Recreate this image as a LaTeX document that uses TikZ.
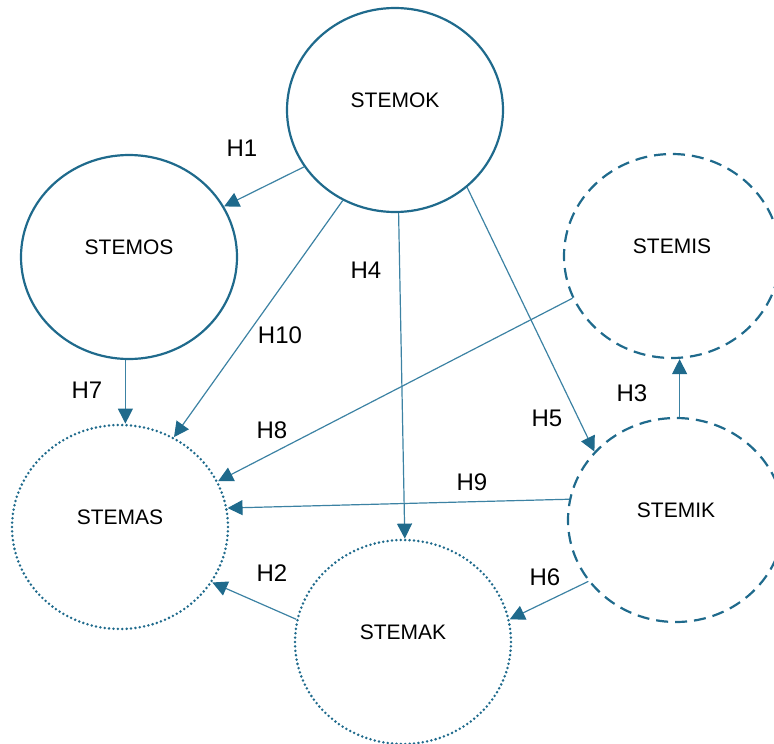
\documentclass[tikz,border=0pt]{standalone}
\usepackage{fontspec}
\setmainfont{Liberation Sans}
\usepackage{xcolor}
\usepackage{tikz}
\usetikzlibrary{shapes.geometric,arrows.meta}
\definecolor{stemblue}{HTML}{1F6A8C}
\definecolor{linkblue}{HTML}{3C82A3}

\begin{document}
\begin{tikzpicture}[x=1pt,y=-1pt,
  var/.style={ellipse, draw=stemblue, line width=2.2pt, minimum width=216pt, minimum height=204pt, inner sep=0pt},
  solidvar/.style={var},
  dashvar/.style={var, dash pattern=on 12pt off 7pt},
  dotvar/.style={var, line width=2.8pt, line cap=round, dash pattern=on 0pt off 4.4pt},
  hyp/.style={-{Triangle[length=15pt,width=15pt,color=stemblue]}, draw=linkblue, line width=1.2pt},
  vname/.style={font=\fontsize{21}{24}\selectfont},
  hname/.style={font=\fontsize{24}{28}\selectfont}]
 \useasboundingbox (0,0) rectangle (774,744);
  % variables
  \node[solidvar, label={[vname,yshift=10pt]center:STEMOK}] (ok) at (395,110) {};
  \node[solidvar, label={[vname,yshift=10pt]center:STEMOS}] (os) at (129,257) {};
  \node[dashvar, label={[vname,yshift=10pt]center:STEMIS}] (is) at (672,256) {};
  \node[dashvar, label={[vname,yshift=10pt]center:STEMIK}] (ik) at (676,520) {};
  \node[dotvar, label={[vname,yshift=10pt]center:STEMAS}] (as) at (120,527) {};
  \node[dotvar, label={[vname,yshift=10pt]center:STEMAK}] (ak) at (403,642) {};
  % hypotheses
  \draw[hyp] (ok.212.8) -- (os.28.7);
  \draw[hyp] (ok.240.9) -- (as.59.2);
  \draw[hyp] (ok.272.8) -- (ak.89);
  \draw[hyp] (ok.313.2) -- (ik.140.3);
  \draw[hyp] (is.203.9) -- (as.25.2);
  \draw[hyp] (os.268) -- (os.268 |- as.north);
  \draw[hyp] (ik.88) -- (ik.88 |- is.south);
  \draw[hyp] (ik.169.5) -- (as.10);
  \draw[hyp] (ik.215.2) -- (ak.12);
  \draw[hyp] (ak.168.4) -- (as.329);
  \foreach \x/\y/\htext in {242/148/H1, 272/573/H2, 632/393/H3, 366/270/H4, 547/418/H5,
                            545/577/H6, 87/390/H7, 272/430/H8, 472/482/H9, 280/335/H10}
   \node[hname] (lab\htext) at (\x,\y) {\htext};
\end{tikzpicture}
\end{document}
